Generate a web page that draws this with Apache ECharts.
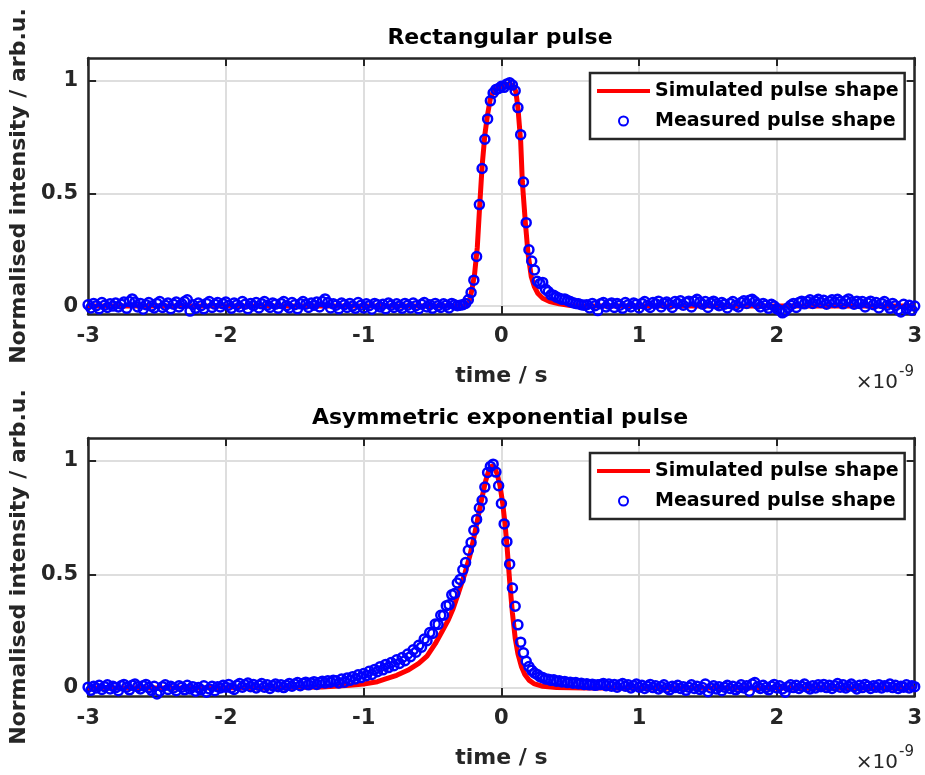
<!DOCTYPE html>
<html>
<head>
<meta charset="utf-8">
<script src="https://cdn.jsdelivr.net/npm/echarts@6/dist/echarts.min.js"></script>
<style>
html,body{margin:0;padding:0;background:#fff;}
#chart{width:925px;height:775px;}
</style>
</head>
<body>
<div id="chart"></div>
<script>
// ---------------- data ----------------
const T0 = -3;          // first sample time (ns)
const DT = 0.02;        // sample spacing (ns)
const xTicks = [-3, -2, -1, 0, 1, 2, 3];
const yTicks = [0, 0.5, 1];
const titles = ['Rectangular pulse', 'Asymmetric exponential pulse'];
const seriesNames = ['Simulated pulse shape', 'Measured pulse shape'];

// Rectangular pulse: simulated (time ns, intensity)
const rectSimT = [-3, -0.3, -0.26, -0.24, -0.23, -0.215, -0.195, -0.175, -0.158, -0.14, -0.12, -0.1, -0.08, -0.06, -0.03, 0, 0.03, 0.06, 0.09, 0.105, 0.12, 0.14, 0.152, 0.174, 0.193, 0.217, 0.24, 0.265, 0.3, 0.35, 0.42, 0.5, 0.6, 3];
const rectSimY = [0, 0, 0, 0.012, 0.03, 0.07, 0.14, 0.26, 0.44, 0.62, 0.76, 0.85, 0.92, 0.95, 0.965, 0.975, 0.982, 0.985, 0.975, 0.95, 0.88, 0.73, 0.55, 0.37, 0.235, 0.13, 0.085, 0.056, 0.035, 0.02, 0.01, 0.003, 0, 0];

// Rectangular pulse: measured, one value every DT from T0
const rectMeas = [
0.006,-0.008,0.012,0.002,-0.012,0.016,0.004,-0.006,0.010,0.000,
0.014,-0.004,0.008,0.018,-0.010,0.020,0.032,0.018,-0.004,0.012,
-0.014,0.006,0.016,0.000,-0.008,0.012,0.020,-0.006,0.004,0.014,
-0.012,0.008,0.018,-0.004,0.010,0.020,0.028,-0.022,0.006,-0.010,
0.014,0.002,-0.012,0.012,0.020,-0.006,0.008,0.016,-0.004,0.010,
0.018,0.004,-0.010,0.014,0.006,-0.004,0.020,0.008,-0.012,0.012,
0.002,0.016,-0.008,0.010,0.020,0.004,-0.006,0.014,0.008,-0.010,
0.012,0.020,0.002,-0.008,0.016,0.006,-0.012,0.010,0.020,0.008,
-0.006,0.014,0.004,0.018,-0.004,0.020,0.032,0.016,-0.008,0.010,
0.004,-0.012,0.014,0.006,-0.006,0.012,0.000,-0.010,0.016,0.004,
-0.008,0.010,0.002,-0.014,0.012,0.006,-0.004,0.008,-0.012,0.014,
0.004,-0.006,0.010,0.000,-0.010,0.012,0.004,-0.008,0.014,0.002,
-0.012,0.008,0.016,-0.004,0.006,-0.010,0.012,0.002,-0.006,0.010,
0.004,-0.008,0.012,0.006,0.002,
0.004,0.006,0.012,0.028,0.06,0.115,0.22,0.45,0.61,0.74,
0.83,0.91,0.945,0.96,0.965,0.975,0.97,0.985,0.99,0.98,
0.955,0.88,0.76,0.55,0.37,0.25,0.2,0.16,0.11,0.1,
0.105,0.075,0.065,0.05,0.048,0.04,0.035,0.03,0.032,0.025,
0.02,0.015,0.012,0.01,0.006,0.004,
0.006,-0.008,0.012,0.002,-0.020,0.010,0.016,-0.004,0.008,0.014,
-0.006,0.012,0.004,-0.010,0.016,0.006,-0.004,0.014,0.008,-0.008,
0.012,0.020,0.004,-0.006,0.016,0.010,0.022,-0.004,0.012,0.018,
0.008,-0.006,0.020,0.012,0.024,0.004,0.016,0.022,-0.004,0.022,
0.030,0.018,0.008,0.020,-0.006,0.014,0.022,0.010,0.002,0.016,
0.008,-0.008,0.012,0.020,0.004,-0.004,0.016,0.024,0.012,0.026,
0.030,0.020,0.008,-0.004,0.012,0.004,-0.010,0.008,0.000,-0.012,
-0.018,-0.030,-0.022,-0.008,0.004,0.012,-0.006,0.016,0.022,0.010,
0.020,0.028,0.012,0.022,0.030,0.016,0.026,0.008,0.020,0.028,
0.016,0.030,0.020,0.010,0.024,0.032,0.018,0.008,0.022,0.012,
0.020,-0.004,0.014,0.022,0.006,0.016,-0.008,0.012,0.020,0.004,
-0.010,0.012,0.002,-0.016,-0.026,0.008,-0.012,0.004,-0.018,0.000
];

// Asymmetric exponential pulse: simulated (time ns, intensity)
const expSimT = [-3, -1.6, -1.3, -1.1, -1.0, -0.9, -0.84, -0.76, -0.68, -0.6, -0.54, -0.48, -0.43, -0.385, -0.35, -0.313, -0.265, -0.23, -0.2, -0.17, -0.14, -0.115, -0.09, -0.07, -0.05, -0.03, -0.01, 0.01, 0.025, 0.04, 0.06, 0.08, 0.1, 0.12, 0.145, 0.17, 0.2, 0.24, 0.3, 0.4, 0.6, 3];
const expSimY = [0, 0.001, 0.005, 0.012, 0.018, 0.028, 0.04, 0.056, 0.078, 0.108, 0.14, 0.195, 0.25, 0.3, 0.35, 0.416, 0.504, 0.58, 0.66, 0.75, 0.84, 0.91, 0.96, 0.978, 0.97, 0.94, 0.89, 0.81, 0.73, 0.63, 0.47, 0.33, 0.22, 0.15, 0.095, 0.06, 0.035, 0.018, 0.008, 0.002, 0, 0];

// Asymmetric exponential pulse: measured, one value every DT from T0
const expMeas = [
0.004,-0.010,0.008,0.000,0.012,-0.006,0.006,0.014,-0.004,0.008,
0.002,-0.012,0.010,0.016,0.004,-0.008,0.012,0.018,0.006,-0.004,
0.010,0.016,0.002,-0.010,0.008,-0.026,-0.014,0.006,0.014,-0.006,
0.008,0.000,-0.012,0.010,0.004,-0.008,0.012,-0.004,0.006,-0.014,
0.002,-0.008,0.010,-0.018,-0.004,0.008,-0.012,0.006,0.000,0.012,
0.004,0.016,0.000,-0.006,0.012,0.020,0.004,0.014,0.022,0.006,
0.016,0.000,0.012,0.020,0.004,0.014,-0.002,0.010,0.018,0.006,
0.014,0.002,0.012,0.020,0.008,0.018,0.024,0.010,0.020,0.026,
0.014,0.022,0.028,0.016,0.024,0.030,0.022,0.032,0.026,0.034,
0.032,0.022,0.040,0.026,0.044,0.034,0.050,0.040,0.058,0.046,
0.064,0.054,0.074,0.060,0.082,0.072,0.094,0.080,0.104,0.090,
0.112,0.098,0.124,0.108,0.134,0.120,0.150,0.138,0.168,0.158,
0.188,0.180,0.216,0.208,0.244,0.240,0.282,0.280,0.320,0.320,
0.362,0.366,0.410,0.416,0.462,0.478,0.520,0.552,0.606,0.640,
0.694,0.742,0.792,0.826,0.884,0.948,0.975,0.985,0.950,0.890,
0.812,0.722,0.644,0.545,0.440,0.360,0.278,0.202,0.155,0.118,
0.095,0.078,0.066,0.060,0.050,0.046,0.040,0.039,0.034,0.036,
0.030,0.032,0.027,0.029,0.024,0.026,0.021,0.024,0.019,0.021,
0.016,0.019,0.014,0.017,0.012,0.015,
0.016,0.020,0.010,0.018,0.008,0.016,0.004,0.014,0.020,0.008,
0.014,0.000,0.010,0.018,0.004,0.012,-0.002,0.008,0.016,0.002,
0.010,-0.004,0.006,0.014,0.000,-0.008,0.008,0.002,0.012,-0.002,
0.006,-0.010,0.004,0.014,-0.002,0.008,-0.006,0.002,0.018,-0.016,
0.000,0.010,-0.004,0.006,-0.012,0.004,0.012,-0.002,0.008,-0.008,
0.002,0.014,0.000,0.010,-0.014,0.018,0.024,0.006,-0.002,0.012,
0.002,-0.008,0.008,0.016,0.000,0.010,-0.004,-0.018,0.006,0.014,
0.002,0.012,-0.002,0.008,0.018,0.004,-0.004,0.010,0.000,0.014,
0.006,0.016,0.002,0.012,-0.002,0.010,0.020,0.004,0.014,0.000,
0.008,0.018,0.006,-0.004,0.012,0.002,0.016,0.008,-0.002,0.010,
0.004,0.014,0.000,0.010,0.006,0.018,0.002,0.012,-0.002,0.008,
0.004,0.014,0.000,0.010,0.006
];

// ---------------- chart ----------------
const FONT = 'DejaVu Sans';
const AX = '#262626';
const chart = echarts.init(document.getElementById('chart'), null, {renderer: 'canvas'});

const grids = [
  {left: 85, top: 58, width: 831, height: 256},
  {left: 85, top: 438, width: 831, height: 258}
];

function zip(t, y) { return t.map((v, i) => [v, y[i]]); }
function sampled(arr) { return arr.map((v, i) => [T0 + i * DT, v]); }

const xAxes = [], yAxes = [];
grids.forEach((g, k) => {
  xAxes.push({
    type: 'value', gridIndex: k, min: -3, max: 3, interval: 1, position: 'bottom',
    name: 'time / s', nameLocation: 'middle', nameGap: 51,
    nameTextStyle: {fontFamily: FONT, fontWeight: 'bold', fontSize: 22, color: AX},
    axisLine: {onZero: false, lineStyle: {color: AX, width: 2.5}},
    axisTick: {inside: true, length: 8, lineStyle: {color: AX, width: 2}},
    axisLabel: {fontFamily: FONT, fontWeight: 'bold', fontSize: 21, color: AX, margin: 12},
    splitLine: {show: true, lineStyle: {color: '#dedede', width: 2}}
  });
  xAxes.push({
    type: 'value', gridIndex: k, min: -3, max: 3, interval: 1, position: 'top',
    axisLine: {onZero: false, lineStyle: {color: AX, width: 2.5}},
    axisTick: {inside: true, length: 8, lineStyle: {color: AX, width: 2}},
    axisLabel: {show: false}, splitLine: {show: false}
  });
  yAxes.push({
    type: 'value', gridIndex: k, min: -0.035, max: 1.1, position: 'left',
    name: 'Normalised intensity / arb.u.', nameLocation: 'middle', nameGap: 52, nameRotate: 90,
    nameTextStyle: {fontFamily: FONT, fontWeight: 'bold', fontSize: 22, color: AX},
    axisLine: {onZero: false, lineStyle: {color: AX, width: 2.5}},
    axisTick: {inside: true, length: 8, lineStyle: {color: AX, width: 2}, customValues: yTicks},
    axisLabel: {fontFamily: FONT, fontWeight: 'bold', fontSize: 21, color: AX, margin: 10, customValues: yTicks},
    splitLine: {show: true, lineStyle: {color: '#dedede', width: 2}}
  });
  yAxes.push({
    type: 'value', gridIndex: k, min: -0.035, max: 1.1, position: 'right',
    axisLine: {onZero: false, lineStyle: {color: AX, width: 2.5}},
    axisTick: {inside: true, length: 8, lineStyle: {color: AX, width: 2}, customValues: yTicks},
    axisLabel: {show: false}, splitLine: {show: false}
  });
});

const simData = [zip(rectSimT, rectSimY), zip(expSimT, expSimY)];
const measData = [sampled(rectMeas), sampled(expMeas)];
const series = [];
[0, 1].forEach(k => {
  series.push({
    name: seriesNames[0], type: 'line', xAxisIndex: 2 * k, yAxisIndex: 2 * k,
    data: simData[k], showSymbol: false, symbol: 'none', smooth: false,
    lineStyle: {color: '#ff0000', width: 5}, itemStyle: {color: '#ff0000'},
    z: 2, animation: false
  });
  series.push({
    name: seriesNames[1], type: 'scatter', xAxisIndex: 2 * k, yAxisIndex: 2 * k,
    data: measData[k], symbol: 'circle', symbolSize: 9,
    itemStyle: {color: 'rgba(0,0,0,0)', borderColor: '#0000ff', borderWidth: 2.5, opacity: 1},
    z: 3, animation: false
  });
});

const legendTops = [73, 453];
const legends = legendTops.map(t => ({
  left: 590, top: t, orient: 'vertical', selectedMode: false,
  data: [
    {name: seriesNames[0], icon: 'path://M0,0L53,0L53,4L0,4Z', itemStyle: {color: '#ff0000'}},
    {name: seriesNames[1], icon: 'circle', itemStyle: {color: 'rgba(0,0,0,0)', borderColor: '#0000ff', borderWidth: 2}}
  ],
  itemWidth: 53, itemHeight: 9, itemGap: 6,
  padding: [6, 6, 6, 7],
  backgroundColor: '#fff', borderColor: AX, borderWidth: 2.5,
  textStyle: {fontFamily: FONT, fontWeight: 'bold', fontSize: 19, color: '#000', lineHeight: 24}
}));

const graphics = [];
[[38, 383], [418, 763]].forEach((p, k) => {
  graphics.push({type: 'text', x: 500, y: p[0], style: {text: titles[k], fontFamily: FONT, fontWeight: 'bold', fontSize: 22, fill: '#000', textAlign: 'center', textVerticalAlign: 'middle'}});
  graphics.push({type: 'text', x: 898, y: p[1], style: {text: '×10', fontFamily: FONT, fontSize: 20, fill: AX, textAlign: 'right', textVerticalAlign: 'middle'}});
  graphics.push({type: 'text', x: 899, y: p[1] - 11, style: {text: '-9', fontFamily: FONT, fontSize: 15, fill: AX, textAlign: 'left', textVerticalAlign: 'middle'}});
});

chart.setOption({
  animation: false,
  backgroundColor: '#fff',
  grid: grids,
  xAxis: xAxes,
  yAxis: yAxes,
  legend: legends,
  series: series,
  graphic: graphics
});
</script>
</body>
</html>
